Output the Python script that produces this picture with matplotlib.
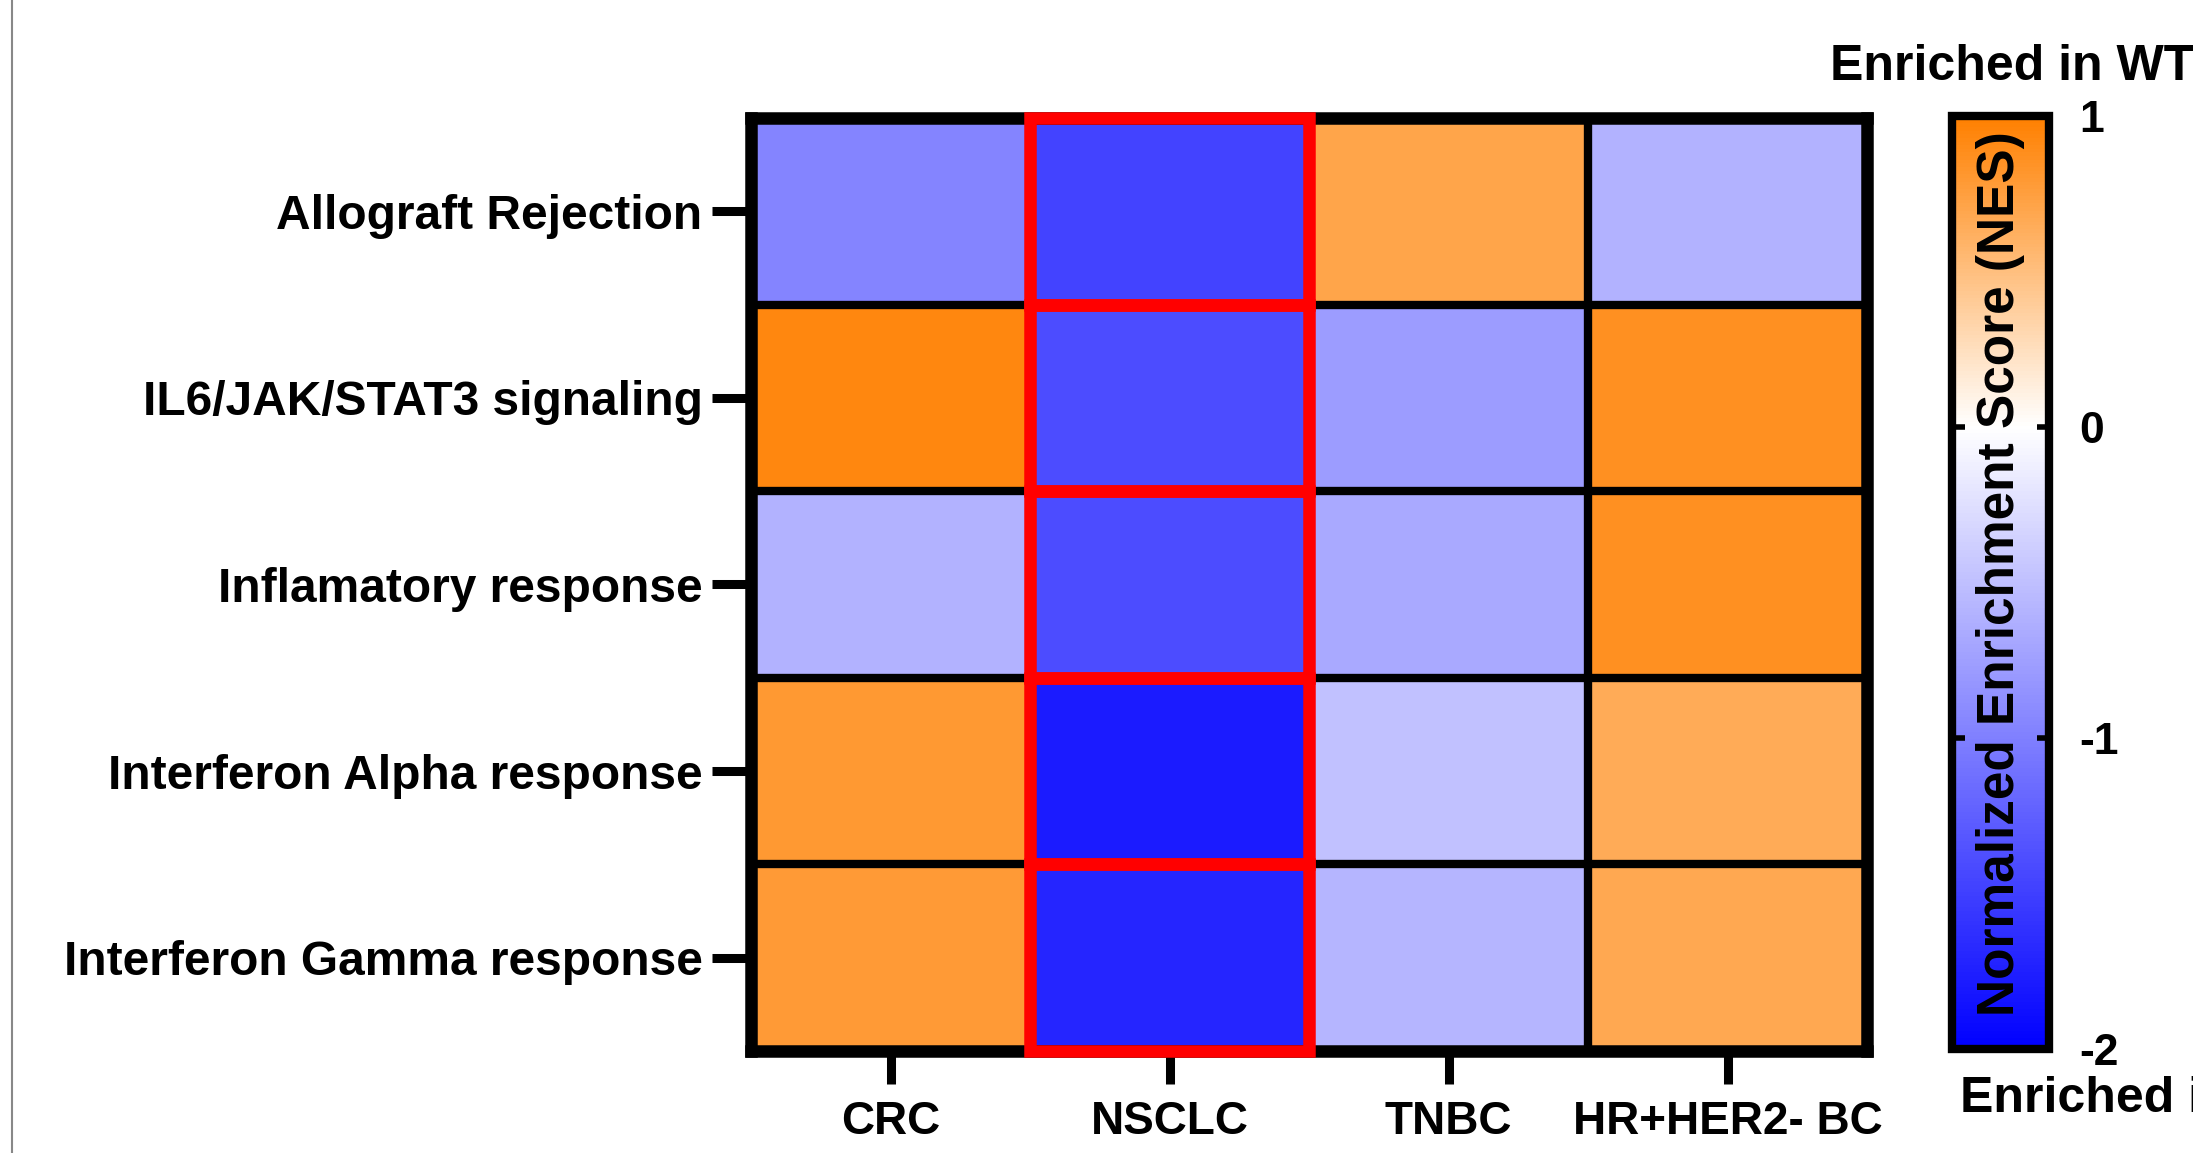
import matplotlib
matplotlib.use("Agg")
import matplotlib.pyplot as plt
import numpy as np
from matplotlib.colors import LinearSegmentedColormap, Normalize
from matplotlib.patches import Rectangle
from matplotlib.lines import Line2D


# ------------------ Data ------------------ #
pathways = ["Allograft Rejection", "IL6/JAK/STAT3 signaling", "Inflamatory response",
            "Interferon Alpha response", "Interferon Gamma response"]
cancers = ["CRC", "NSCLC", "TNBC", "HR+HER2- BC"]

nes_crc = [-0.96, 0.93, -0.60, 0.80, 0.78]
nes_nsclc = [-1.47, -1.40, -1.40, -1.78, -1.70]
nes_tnbc = [0.70, -0.78, -0.67, -0.48, -0.58]
nes_hr = [-0.60, 0.87, 0.87, 0.65, 0.68]

highlight_col = "NSCLC"
cbar_ticks = [-2, -1, 0, 1]

# ------------------ Style ------------------ #
plt.rcParams['font.family'] = ['Liberation Sans', 'DejaVu Sans']
plt.rcParams['font.weight'] = 'bold'
plt.rcParams['axes.unicode_minus'] = False

vmin, vmax = -2, 1
white_pos = (0 - vmin) / (vmax - vmin)
cmap = LinearSegmentedColormap.from_list(
    "nes", [(0.0, "#0000FF"), (white_pos, "#FFFFFF"), (1.0, "#FF8000")])
norm = Normalize(vmin=vmin, vmax=vmax)

data = np.array([nes_crc, nes_nsclc, nes_tnbc, nes_hr]).T

fig = plt.figure(figsize=(21.93, 11.53), dpi=100)
ax = fig.add_axes([0.3425, 0.0885, 0.5089, 0.8092])
cax = fig.add_axes([0.8901, 0.0902, 0.0442, 0.8092])

im = ax.imshow(data, cmap=cmap, norm=norm, aspect='auto')

# black grid between cells
for i in range(1, len(pathways)):
    ax.axhline(i - 0.5, color='black', lw=6, zorder=3)
for j in range(1, len(cancers)):
    ax.axvline(j - 0.5, color='black', lw=6, zorder=3)

# red boxes around highlighted column
col = cancers.index(highlight_col)
for i in range(len(pathways)):
    ax.add_patch(Rectangle((col - 0.5, i - 0.5), 1, 1, fill=False,
                           edgecolor='#FF0000', lw=9, zorder=5, clip_on=False))

for s in ax.spines.values():
    s.set_linewidth(9)
    s.set_zorder(4)

ax.set_xticks(range(len(cancers)))
ax.set_xticklabels(cancers, fontsize=33, fontweight='bold')
ax.set_yticks(range(len(pathways)))
ax.set_yticklabels(pathways, fontsize=34.5, fontweight='bold')
ax.tick_params(axis='x', length=24, width=6.5, pad=11)
ax.tick_params(axis='y', length=28, width=6.5, pad=7)

# ------------------ Colorbar ------------------ #
cb = fig.colorbar(im, cax=cax, ticks=cbar_ticks)
cb.outline.set_linewidth(6)
cax.tick_params(axis='y', direction='in', left=True, right=True,
                length=9, width=4, pad=22, labelsize=32)
for t in cax.get_yticklabels():
    t.set_fontweight('bold')
cax.text(0.5, 0.51, "Normalized Enrichment Score (NES)", transform=cax.transAxes,
         rotation=90, ha='center', va='center', fontsize=37, fontweight='bold')

# side captions (cut by the right edge, as in the original)
fig.text(1830 / 2193, 1 - 80 / 1153, "Enriched in WT", fontsize=36,
         fontweight='bold', ha='left', va='baseline')
fig.text(1960 / 2193, 1 - 1112 / 1153, "Enriched in", fontsize=36,
         fontweight='bold', ha='left', va='baseline')

fig.add_artist(Line2D([12 / 2193, 12 / 2193], [0, 1], color='#888888', lw=1.5,
                      transform=fig.transFigure))

fig.savefig("out.png", dpi=100)
